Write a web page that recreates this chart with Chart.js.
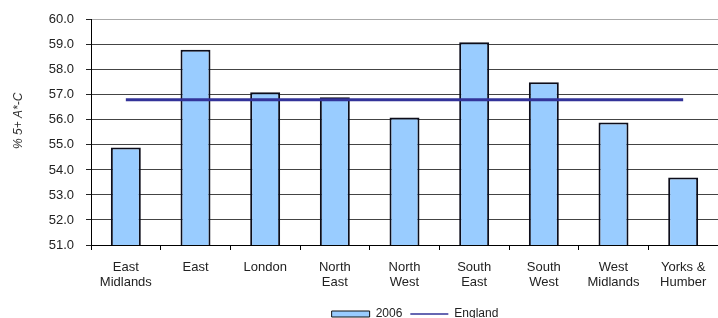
<!DOCTYPE html>
<html>
<head>
<meta charset="utf-8">
<script src="https://cdn.jsdelivr.net/npm/chart.js@4.4.1/dist/chart.umd.min.js"></script>
<style>
  html, body { margin: 0; padding: 0; background: #fff; }
</style>
</head>
<body>
<canvas id="chart" width="718" height="318"></canvas>
<script>
const regions = [
  ["East", "Midlands"], "East", "London", ["North", "East"], ["North", "West"],
  ["South", "East"], ["South", "West"], ["West", "Midlands"], ["Yorks &", "Humber"]
];
const results2006 = [54.9, 58.8, 57.1, 56.9, 56.1, 59.1, 57.5, 55.9, 53.7];
const england = [56.8, 56.8, 56.8, 56.8, 56.8, 56.8, 56.8, 56.8, 56.8];
const yMin = 51;
const yMax = 60;

const FONT = "'Liberation Sans', Arial, sans-serif";

// nudge the legend over to where the original sits
const legendShift = {
  id: "legendShift",
  afterLayout(chart) {
    const l = chart.legend;
    l.left += 56; l.right += 56;
    l.top += 12; l.bottom += 12;
  }
};

const ctx = document.getElementById("chart").getContext("2d");
new Chart(ctx, {
  data: {
    labels: regions,
    datasets: [
      {
        type: "bar",
        label: "2006",
        data: results2006,
        backgroundColor: "#99ccff",
        borderColor: "#0d0d1a",
        borderWidth: 2,
        categoryPercentage: 0.5,
        barPercentage: 0.86,
        order: 2,
      },
      {
        type: "line",
        label: "England",
        data: england,
        borderColor: "#333399",
        borderWidth: 3,
        pointRadius: 0,
        fill: false,
        order: 1,
      },
    ],
  },
  options: {
    responsive: false,
    animation: false,
    layout: { padding: { top: 18, right: 0, bottom: 0, left: 0 } },
    plugins: {
      tooltip: { enabled: false },
      legend: {
        position: "bottom",
        labels: {
          usePointStyle: true,
          pointStyleWidth: 38,
          boxHeight: 6,
          padding: 8,
          color: "#222",
          font: { family: FONT, size: 12 },
          generateLabels: (chart) => {
            const items = Chart.defaults.plugins.legend.labels.generateLabels(chart);
            items.forEach((it) => {
              if (it.text === "2006") {
                it.pointStyle = "rect";
                it.lineWidth = 1;
                it.strokeStyle = "#111";
              } else {
                it.pointStyle = "line";
                it.lineWidth = 1.5;
              }
            });
            return items.reverse();
          },
        },
      },
    },
    scales: {
      x: {
        grid: {
          display: true,
          drawOnChartArea: false,
          tickLength: 5,
          tickColor: "#000",
          offset: true,
        },
        border: { color: "#000", width: 1 },
        ticks: {
          color: "#222",
          font: { family: FONT, size: 13, lineHeight: 1.15 },
          padding: 10,
          maxRotation: 0,
          autoSkip: false,
        },
        afterFit: (s) => { s.height = 43; },
      },
      y: {
        min: yMin,
        max: yMax,
        ticks: {
          stepSize: 1,
          callback: (v) => v.toFixed(1),
          color: "#222",
          font: { family: FONT, size: 13 },
          padding: 12,
        },
        grid: {
          color: (c) => (c.tick && c.tick.value === yMax ? "#aaaaaa" : "#444444"),
          tickColor: "#222",
          tickLength: 5,
        },
        border: { color: "#000", width: 1 },
        title: {
          display: true,
          // leading spaces push the rotated title up a little, as in the original
          text: "       % 5+ A*-C",
          color: "#333",
          font: { family: FONT, size: 12, style: "italic" },
          padding: { top: 11, bottom: 0 },
        },
        afterFit: (s) => { s.width = 91; },
      },
    },
  },
  plugins: [legendShift],
});
</script>
</body>
</html>
